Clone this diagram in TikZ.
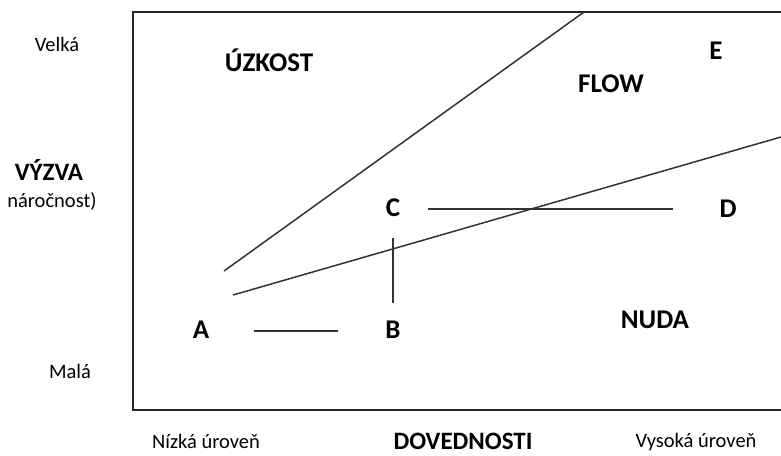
\documentclass[tikz,border=0pt]{standalone}
\usepackage{fontspec}
\setmainfont{Carlito}
\begin{document}
\begin{tikzpicture}[x=1pt,y=-1pt,
  small/.style={anchor=base,inner sep=0pt,font=\fontsize{20.5}{23}\selectfont},
  axis/.style={anchor=base,inner sep=0pt,font=\bfseries\fontsize{25}{28}\selectfont},
  zone/.style={anchor=base,inner sep=0pt,font=\bfseries\fontsize{27}{30}\selectfont},
  frame/.style={line width=2pt,draw=black!85},
  thin/.style={line width=1.5pt,draw=black!80}]
\useasboundingbox (0,0) rectangle (781,455);
\clip (0,0) rectangle (781,455);
% frame
\coordinate (tr) at (790,12);
\coordinate (tl) at (133,12);
\coordinate (bl) at (133,410);
\coordinate (br) at (790,410);
\draw[frame] (tr) -- (tl) -- (bl) -- (br);
% axis labels
\node[small] (velka) at (57,51) {Velká};
\node[axis] (vyzva) at (49,180) {VÝZVA};
\node[small] (narocnost) at (52,207) {náročnost)};
\node[small] (mala) at (70,378) {Malá};
\node[small] (nizka) at (206,448) {Nízká úroveň};
\node[axis] (dov) at (463,449) {DOVEDNOSTI};
\node[small] (vysoka) at (696,447) {Vysoká úroveň};
% zones
\node[zone] (uzkost) at (269,71) {ÚZKOST};
\node[zone] (flow) at (611,92) {FLOW};
\node[zone] (nuda) at (655,328) {NUDA};
% points
\node[zone] (A) at (201,338) {A};
\node[zone] (B) at (393,338) {B};
\node[zone] (C) at (393,216) {C};
\node[zone] (D) at (728,217) {D};
\node[zone] (E) at (716,59) {E};
% diagonal lines
\coordinate (u1) at (224,271);
\coordinate (u2) at (584,12);
\coordinate (l1) at (233,295);
\coordinate (l2) at (781,137);
\draw[thin] (u1) -- (u2);
\draw[thin] (l1) -- (l2);
% connectors
\coordinate (ab1) at (254,331);
\coordinate (ab2) at (338,331);
\coordinate (bc1) at (393,303);
\coordinate (bc2) at (393,238);
\coordinate (cd1) at (428,209);
\coordinate (cd2) at (673,209);
\draw[thin] (ab1) -- (ab2);
\draw[thin] (bc1) -- (bc2);
\draw[thin] (cd1) -- (cd2);
\end{tikzpicture}
\end{document}
